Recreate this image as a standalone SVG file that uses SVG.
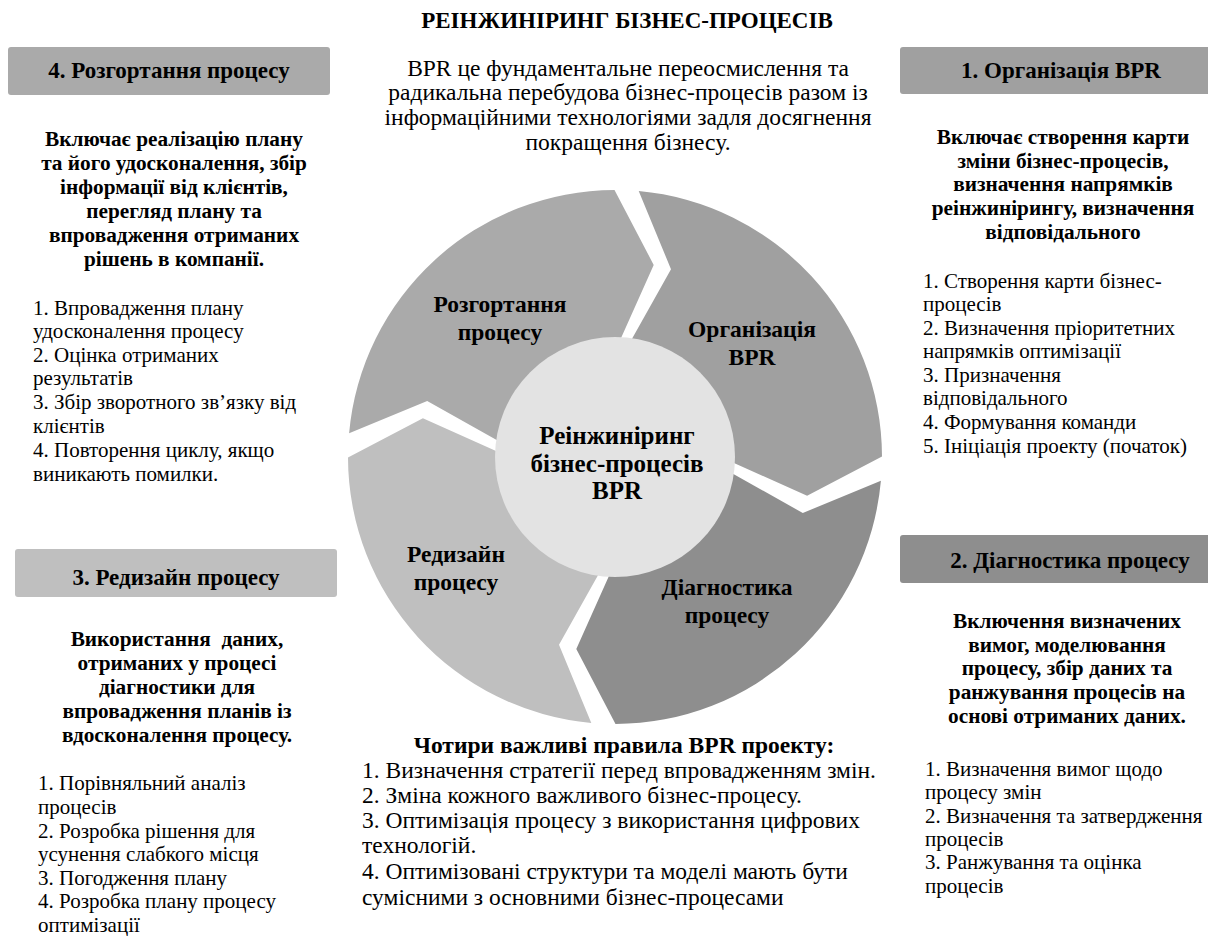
<svg xmlns="http://www.w3.org/2000/svg" width="1208" height="936" viewBox="0 0 1208 936" font-family="Liberation Serif, DejaVu Serif, serif">
<defs>
<style>
text{font-family:'Liberation Serif','Times New Roman',serif;fill:#000}
.t{font-size:23px;font-weight:bold;text-anchor:middle}
.h{font-size:23px;font-weight:bold;text-anchor:middle}
.d{font-size:21.3px;font-weight:bold;text-anchor:middle}
.l{font-size:21px}
.c{font-size:23.5px;text-anchor:middle}
.b{font-size:23.5px}
.bh{font-size:23.5px;font-weight:bold;text-anchor:middle}
.r{font-size:23.5px;font-weight:bold;text-anchor:middle}
.m{font-size:25px;font-weight:bold;text-anchor:middle}
</style>
<path id="seg" d="M638.7,191.1 A267,267 0 0 1 882.0,456.5 L807.1,495.7 L720.0,456.8 A105,105 0 0 0 624.3,352.4 L671.0,269.2 Z"/>
</defs>
<rect width="1208" height="936" fill="#fff"/>
<g id="title"><text class="t" x="627" y="28">РЕІНЖИНІРИНГ БІЗНЕС-ПРОЦЕСІВ</text></g>
<g id="intro">
<text class="c" x="628" y="76">BPR це фундаментальне переосмислення та</text>
<text class="c" x="628" y="100">радикальна перебудова бізнес-процесів разом із</text>
<text class="c" x="628" y="125">інформаційними технологіями задля досягнення</text>
<text class="c" x="628" y="150">покращення бізнесу.</text>
</g>
<g id="connectors"></g>
<g id="seg-organization"><use href="#seg" fill="#a0a0a0"/>
<text class="r" x="752" y="337">Організація</text><text class="r" x="752" y="365">BPR</text></g>
<g id="seg-diagnostics"><use href="#seg" fill="#8e8e8e" transform="rotate(90 615 457)"/>
<text class="r" x="727" y="595">Діагностика</text><text class="r" x="727" y="623">процесу</text></g>
<g id="seg-redesign"><use href="#seg" fill="#bfbfbf" transform="rotate(180 615 457)"/>
<text class="r" x="456" y="562">Редизайн</text><text class="r" x="456" y="590">процесу</text></g>
<g id="seg-deployment"><use href="#seg" fill="#aaaaaa" transform="rotate(270 615 457)"/>
<text class="r" x="500" y="312">Розгортання</text><text class="r" x="500" y="340">процесу</text></g>
<g id="center"><circle cx="615" cy="457" r="120" fill="#e3e3e3"/>
<text class="m" x="617" y="444">Реінжиніринг</text><text class="m" x="617" y="472">бізнес-процесів</text><text class="m" x="617" y="499">BPR</text></g>

<g id="box4">
<rect x="8" y="47" width="322" height="48" rx="3" fill="#aaaaaa"/>
<text class="h" x="169" y="78">4. Розгортання процесу</text>
<text class="d" x="174" y="146">Включає реалізацію плану</text>
<text class="d" x="174" y="170">та його удосконалення, збір</text>
<text class="d" x="174" y="194">інформації від клієнтів,</text>
<text class="d" x="174" y="218">перегляд плану та</text>
<text class="d" x="174" y="242">впровадження отриманих</text>
<text class="d" x="174" y="266">рішень в компанії.</text>
<text class="l" x="33" y="315">1. Впровадження плану</text>
<text class="l" x="33" y="338">удосконалення процесу</text>
<text class="l" x="33" y="362">2. Оцінка отриманих</text>
<text class="l" x="33" y="385">результатів</text>
<text class="l" x="33" y="409">3. Збір зворотного зв’язку від</text>
<text class="l" x="33" y="433">клієнтів</text>
<text class="l" x="33" y="457">4. Повторення циклу, якщо</text>
<text class="l" x="33" y="481">виникають помилки.</text>
</g>

<g id="box1">
<rect x="900" y="47" width="322" height="47" rx="3" fill="#a0a0a0"/>
<text class="h" x="1061" y="78">1. Організація BPR</text>
<text class="d" x="1063" y="144">Включає створення карти</text>
<text class="d" x="1063" y="168">зміни бізнес-процесів,</text>
<text class="d" x="1063" y="191">визначення напрямків</text>
<text class="d" x="1063" y="215">реінжинірингу, визначення</text>
<text class="d" x="1063" y="239">відповідального</text>
<text class="l" x="923" y="288">1. Створення карти бізнес-</text>
<text class="l" x="923" y="311">процесів</text>
<text class="l" x="923" y="335">2. Визначення пріоритетних</text>
<text class="l" x="923" y="358">напрямків оптимізації</text>
<text class="l" x="923" y="382">3. Призначення</text>
<text class="l" x="923" y="405">відповідального</text>
<text class="l" x="923" y="429">4. Формування команди</text>
<text class="l" x="923" y="453">5. Ініціація проекту (початок)</text>
</g>

<g id="box3">
<rect x="15" y="549" width="322" height="48" rx="3" fill="#bfbfbf"/>
<text class="h" x="176" y="585">3. Редизайн процесу</text>
<text class="d" x="177" y="646">Використання&#160; даних,</text>
<text class="d" x="177" y="670">отриманих у процесі</text>
<text class="d" x="177" y="694">діагностики для</text>
<text class="d" x="177" y="718">впровадження планів із</text>
<text class="d" x="177" y="742">вдосконалення процесу.</text>
<text class="l" x="38" y="790">1. Порівняльний аналіз</text>
<text class="l" x="38" y="814">процесів</text>
<text class="l" x="38" y="838">2. Розробка рішення для</text>
<text class="l" x="38" y="861">усунення слабкого місця</text>
<text class="l" x="38" y="885">3. Погодження плану</text>
<text class="l" x="38" y="908">4. Розробка плану процесу</text>
<text class="l" x="38" y="932">оптимізації</text>
</g>

<g id="box2">
<rect x="900" y="535" width="322" height="48" rx="3" fill="#8e8e8e"/>
<text class="h" x="1070" y="568">2. Діагностика процесу</text>
<text class="d" x="1067" y="628">Включення визначених</text>
<text class="d" x="1067" y="652">вимог, моделювання</text>
<text class="d" x="1067" y="675">процесу, збір даних та</text>
<text class="d" x="1067" y="699">ранжування процесів на</text>
<text class="d" x="1067" y="723">основі отриманих даних.</text>
<text class="l" x="925" y="776">1. Визначення вимог щодо</text>
<text class="l" x="925" y="799">процесу змін</text>
<text class="l" x="925" y="823">2. Визначення та затвердження</text>
<text class="l" x="925" y="846">процесів</text>
<text class="l" x="925" y="869">3. Ранжування та оцінка</text>
<text class="l" x="925" y="893">процесів</text>
</g>

<g id="rules">
<text class="bh" x="624" y="753">Чотири важливі правила BPR проекту:</text>
<text class="b" x="362" y="778">1. Визначення стратегії перед впровадженням змін.</text>
<text class="b" x="362" y="803">2. Зміна кожного важливого бізнес-процесу.</text>
<text class="b" x="362" y="828">3. Оптимізація процесу з використання цифрових</text>
<text class="b" x="362" y="853">технологій.</text>
<text class="b" x="362" y="879">4. Оптимізовані структури та моделі мають бути</text>
<text class="b" x="362" y="905">сумісними з основними бізнес-процесами</text>
</g>
</svg>
